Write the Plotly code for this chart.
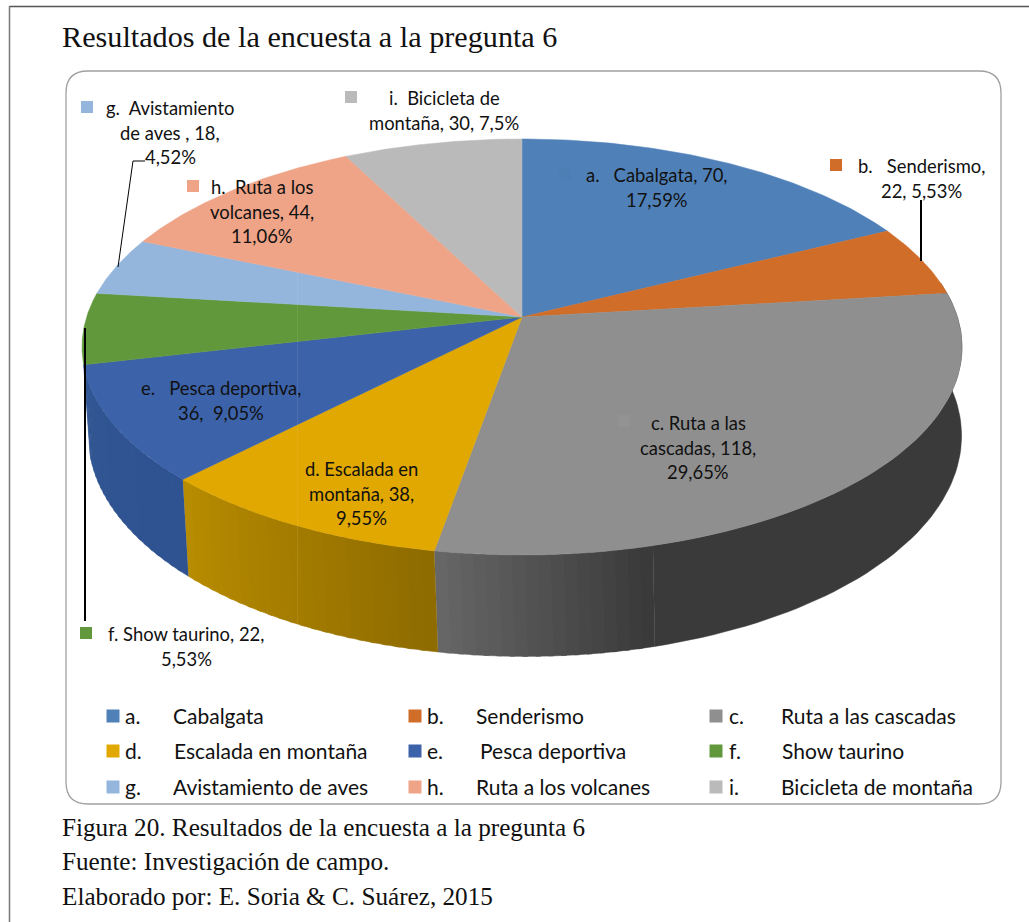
import numpy as np
import plotly.graph_objects as go

# survey data
letters = ['a.', 'b.', 'c.', 'd.', 'e.', 'f.', 'g.', 'h.', 'i.']
categories = ['Cabalgata', 'Senderismo', 'Ruta a las cascadas', 'Escalada en montaña', 'Pesca deportiva',
              'Show taurino', 'Avistamiento de aves', 'Ruta a los volcanes', 'Bicicleta de montaña']
values = [70, 22, 118, 38, 36, 22, 18, 44, 30]
label_lines = [
    ['a.   Cabalgata, 70,', '17,59%'],
    ['b.   Senderismo,', '22, 5,53%'],
    ['c. Ruta a las', 'cascadas, 118,', '29,65%'],
    ['d. Escalada en', 'montaña, 38,', '9,55%'],
    ['e.   Pesca deportiva,', '36,  9,05%'],
    ['f. Show taurino, 22,', '5,53%'],
    ['g.  Avistamiento', 'de aves , 18,', '4,52%'],
    ['h.  Ruta a los', 'volcanes, 44,', '11,06%'],
    ['i.  Bicicleta de', 'montaña, 30, 7,5%'],
]
title = 'Resultados de la encuesta a la pregunta 6'
captions = ['Figura 20. Resultados de la encuesta a la pregunta 6',
            'Fuente: Investigación de campo.',
            'Elaborado por: E. Soria & C. Suárez, 2015']

colors = ['#4f81b8', '#d06d28', '#8f8f8f', '#e0a800', '#3c63a9', '#62983c', '#94b6dd', '#efa488', '#bababa']
# side wall shade at the start and end of each visible slice
wall_shades = {2: ('#3a3a3a', '#666666'), 3: ('#8f6c00', '#b88c00'), 4: ('#2f5290', '#325793')}

# layout of the labels, in page pixels
label_pos = [(657, 175), (921, 166), (698, 423), (361, 469), (221, 388), (186, 634), (170, 108), (262, 187), (444, 98)]
label_marks = {0: (565, 174, '#4d7fb5'), 1: (836, 165, colors[1]), 2: (624, 421, '#929292'), 5: (86, 633, colors[5]),
               6: (87, 107, colors[6]), 7: (193, 186, colors[7]), 8: (351, 97, colors[8])}
legend_x = [113, 415, 716]
legend_letter_x = [123, 425, 727]
legend_name_x = [[171, 474, 779], [172, 478, 780], [171, 474, 779]]
legend_y = [716, 751, 787]

FONT = 'Lato'
SERIF = 'Liberation Serif'
LABEL_SIZE = 18.4
LEGEND_SIZE = 21


def project(theta, cx, cy, rx, ry, k=0.1442):
    # circle seen in perspective, theta clockwise from 12 o'clock
    w = 1 + k * np.cos(theta)
    return cx + rx * np.sin(theta) / w, cy - ry * np.cos(theta) / w


def top_face(theta):
    return project(theta, 522, 317, 435.4, 203.7)


def base_face(theta):
    return project(theta, 525, 404, 432, 216)


def hex_mix(c1, c2, t):
    a = [int(c1[i:i + 2], 16) for i in (1, 3, 5)]
    b = [int(c2[i:i + 2], 16) for i in (1, 3, 5)]
    return 'rgb(%d,%d,%d)' % tuple(a[i] + (b[i] - a[i]) * t for i in range(3))


def add_wall(theta, color):
    tx, ty = top_face(theta)
    bx, by = base_face(theta)
    fig.add_trace(go.Scatter(x=list(tx) + list(bx[::-1]), y=list(ty) + list(by[::-1]), mode='lines', fill='toself',
                             fillcolor=color, line=dict(color=color, width=0.5), hoverinfo='skip', showlegend=False))


fig = go.Figure()
edges = np.cumsum([0] + values) / sum(values) * 2 * np.pi

# side walls first, the dark part of c in one piece, then bands for the shading
dark_end = np.radians(165)
add_wall(np.linspace(edges[2] - np.radians(3), dark_end, 60), wall_shades[2][0])
for i, (dark, light) in wall_shades.items():
    start = dark_end if i == 2 else edges[i]
    end = edges[i + 1]
    n = int(np.degrees(end - start) / 1.5) + 1
    steps = np.linspace(start, end, n + 1)
    for j in range(n):
        # each band runs under the next one so no gap is left between them
        add_wall(np.linspace(steps[j], min(steps[j + 1] + 0.01, end), 6), hex_mix(dark, light, j / (n - 1)))

# top of the pie
for i in range(len(values)):
    theta = np.linspace(edges[i], edges[i + 1], 80)
    px, py = top_face(theta)
    fig.add_trace(go.Scatter(x=[522] + list(px) + [522], y=[317] + list(py) + [317], mode='lines', fill='toself',
                             fillcolor=colors[i], line=dict(color=colors[i], width=0.5), name=categories[i],
                             hoverinfo='name', showlegend=False))

# leader lines
fig.add_trace(go.Scatter(x=[145, 133, 118], y=[161, 161, 267], mode='lines', line=dict(color='black', width=1),
                         hoverinfo='skip', showlegend=False))
fig.add_trace(go.Scatter(x=[921, 921], y=[200, 261], mode='lines', line=dict(color='black', width=2),
                         hoverinfo='skip', showlegend=False))
fig.add_trace(go.Scatter(x=[85, 85], y=[328, 621], mode='lines', line=dict(color='black', width=2),
                         hoverinfo='skip', showlegend=False))

# little legend keys next to the data labels and in the legend block
for i, (mx, my, mc) in label_marks.items():
    fig.add_trace(go.Scatter(x=[mx], y=[my], mode='markers', marker=dict(symbol='square', size=12, color=mc),
                             hoverinfo='skip', showlegend=False))
for i in range(len(values)):
    r, c = i // 3, i % 3
    fig.add_trace(go.Scatter(x=[legend_x[c]], y=[legend_y[r]], mode='markers',
                             marker=dict(symbol='square', size=13, color=colors[i]),
                             hoverinfo='skip', showlegend=False))

annotations = []


def add_text(x, y, text, size, family=FONT, anchor='center'):
    annotations.append(dict(x=x, y=y, text=text, xref='x', yref='y', showarrow=False, xanchor=anchor, yanchor='middle',
                            font=dict(family=family, size=size, color='#111111')))


for i, lines in enumerate(label_lines):
    for j, line in enumerate(lines):
        add_text(label_pos[i][0], label_pos[i][1] + j * 24.7, line, LABEL_SIZE)

for i in range(len(values)):
    r, c = i // 3, i % 3
    add_text(legend_letter_x[c], legend_y[r] - 1, letters[i], LEGEND_SIZE, anchor='left')
    add_text(legend_name_x[r][c], legend_y[r] - 1, categories[i], LEGEND_SIZE, anchor='left')

add_text(60, 37, title, 30.2, SERIF, 'left')
for y, line in zip([827, 861, 896], captions):
    add_text(60, y, line, 25.2, SERIF, 'left')

shapes = [
    # rounded chart area
    dict(type='path', xref='x', yref='y', line=dict(color='#a0a0a0', width=1.3),
         path='M 88 71 L 979 71 Q 1001 71 1001 93 L 1001 782 Q 1001 804 979 804 L 88 804 Q 66 804 66 782 L 66 93 Q 66 71 88 71 Z'),
    # page frame
    dict(type='line', xref='x', yref='y', x0=9.5, x1=1029, y0=6.5, y1=6.5, line=dict(color='#555555', width=1.5)),
    dict(type='line', xref='x', yref='y', x0=9.5, x1=9.5, y0=6, y1=922, line=dict(color='#777777', width=1.5)),
    # faint seam of the scanned picture
    dict(type='line', xref='x', yref='y', x0=297.5, x1=297.5, y0=272, y1=623, line=dict(color='rgba(255,255,255,0.08)', width=1)),
]

fig.update_layout(width=1029, height=922, margin=dict(l=0, r=0, t=0, b=0), paper_bgcolor='white', plot_bgcolor='white',
                  annotations=annotations, shapes=shapes, showlegend=False)
fig.update_xaxes(range=[0, 1029], visible=False, fixedrange=True)
fig.update_yaxes(range=[922, 0], visible=False, fixedrange=True)

fig.write_html("out.html", config=dict(displayModeBar=False), post_script="document.body.style.margin='0';")
